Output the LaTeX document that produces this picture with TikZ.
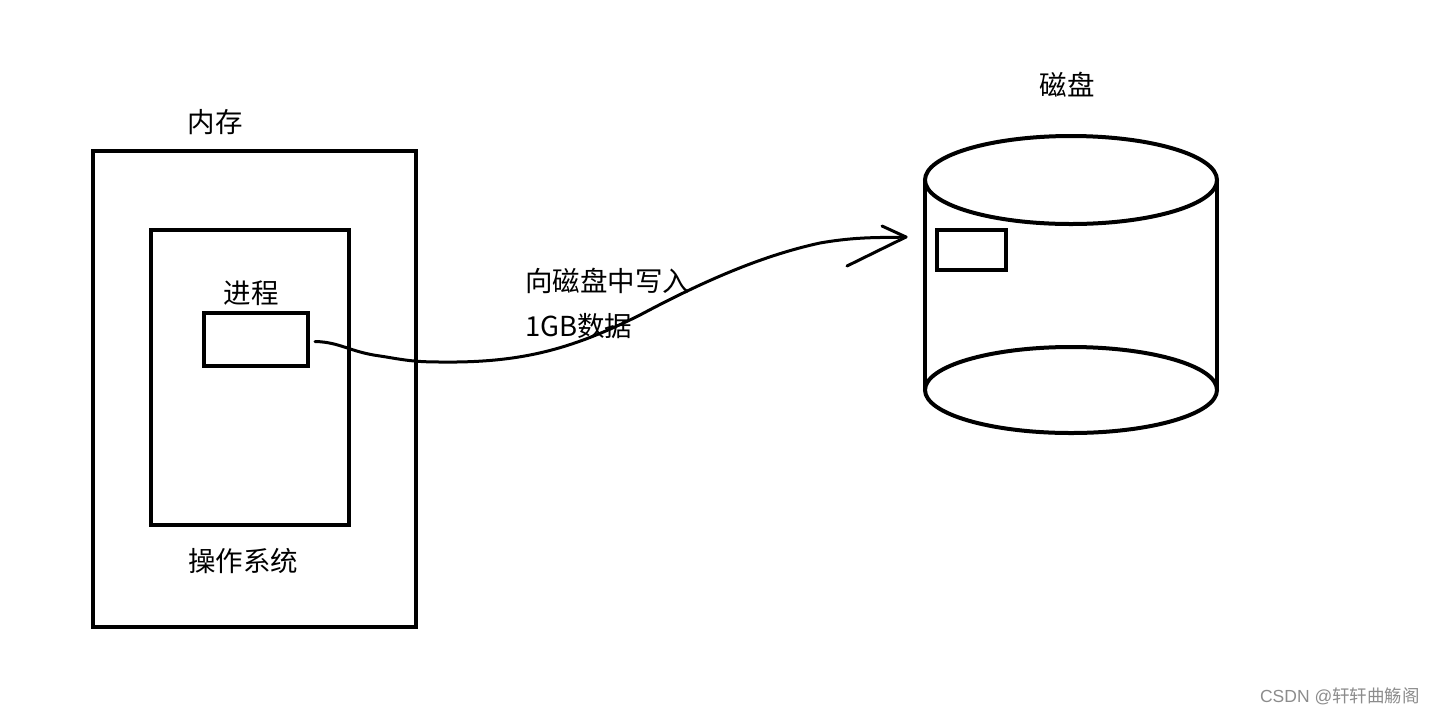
\documentclass[tikz,border=0pt]{standalone}
\usepackage{fontspec}
\usetikzlibrary{shapes.geometric}
\newfontfamily\cjk{Noto Sans CJK SC}
\newfontfamily\wm{Liberation Sans}
\begin{document}
\begin{tikzpicture}[x=1pt,y=-1pt,
  box/.style={draw,line width=4pt,inner sep=0pt},
  lbl/.style={font=\cjk\fontsize{27.5}{32}\selectfont,inner sep=0pt},
  wire/.style={line width=3pt,line cap=round,line join=round}]
\useasboundingbox (0,0) rectangle (1435,716);
% memory
\node[box,minimum width=323pt,minimum height=476pt] (mem) at (254.5,389) {};
\node[box,minimum width=198pt,minimum height=295pt] (os) at (250,377.5) {};
\node[box,minimum width=104pt,minimum height=53pt] (proc) at (256,339.5) {};
\node[lbl] (memlbl) at (215,122) {内存};
\node[lbl] (proclbl) at (251,293) {进程};
\node[lbl] (oslbl) at (243,561) {操作系统};
% disk
\draw[line width=4pt] (925,180) -- (925,390);
\draw[line width=4pt] (1217,180) -- (1217,390);
\node[draw,line width=4pt,ellipse,minimum width=292pt,minimum height=88pt,inner sep=0pt] (top) at (1071,180) {};
\node[draw,line width=4pt,ellipse,minimum width=292pt,minimum height=86pt,inner sep=0pt] (bot) at (1071,390) {};
\node[box,minimum width=69pt,minimum height=40pt] (blk) at (971.5,250) {};
\node[lbl] (disklbl) at (1067,85) {磁盘};
% label
\node[lbl,anchor=west] (l1) at (525,281) {向磁盘中写入};
\node[lbl,anchor=west] (l2) at (525,326) {1GB数据};
% arrow
\coordinate (tip) at (906,237);
\draw[wire] ([xshift=5pt,yshift=-2pt]proc.east) .. controls (340,342) and (350,352) .. (380,356)
  .. controls (400,359) and (410,362) .. (440,362)
  .. controls (520,363) and (570,350) .. (640,315)
  .. controls (700,283) and (760,256) .. (820,243)
  .. controls (860,236) and (885,238) .. (tip);
\draw[wire] (tip) -- (882,226);
\draw[wire] (tip) -- (847,266);
% watermark
\node[font=\wm\fontsize{17.5}{20}\selectfont,text=black!45,anchor=east,inner sep=0pt] (wmk) at (1420,696) {CSDN @{\cjk 轩轩曲觞阁}};
\end{tikzpicture}
\end{document}
